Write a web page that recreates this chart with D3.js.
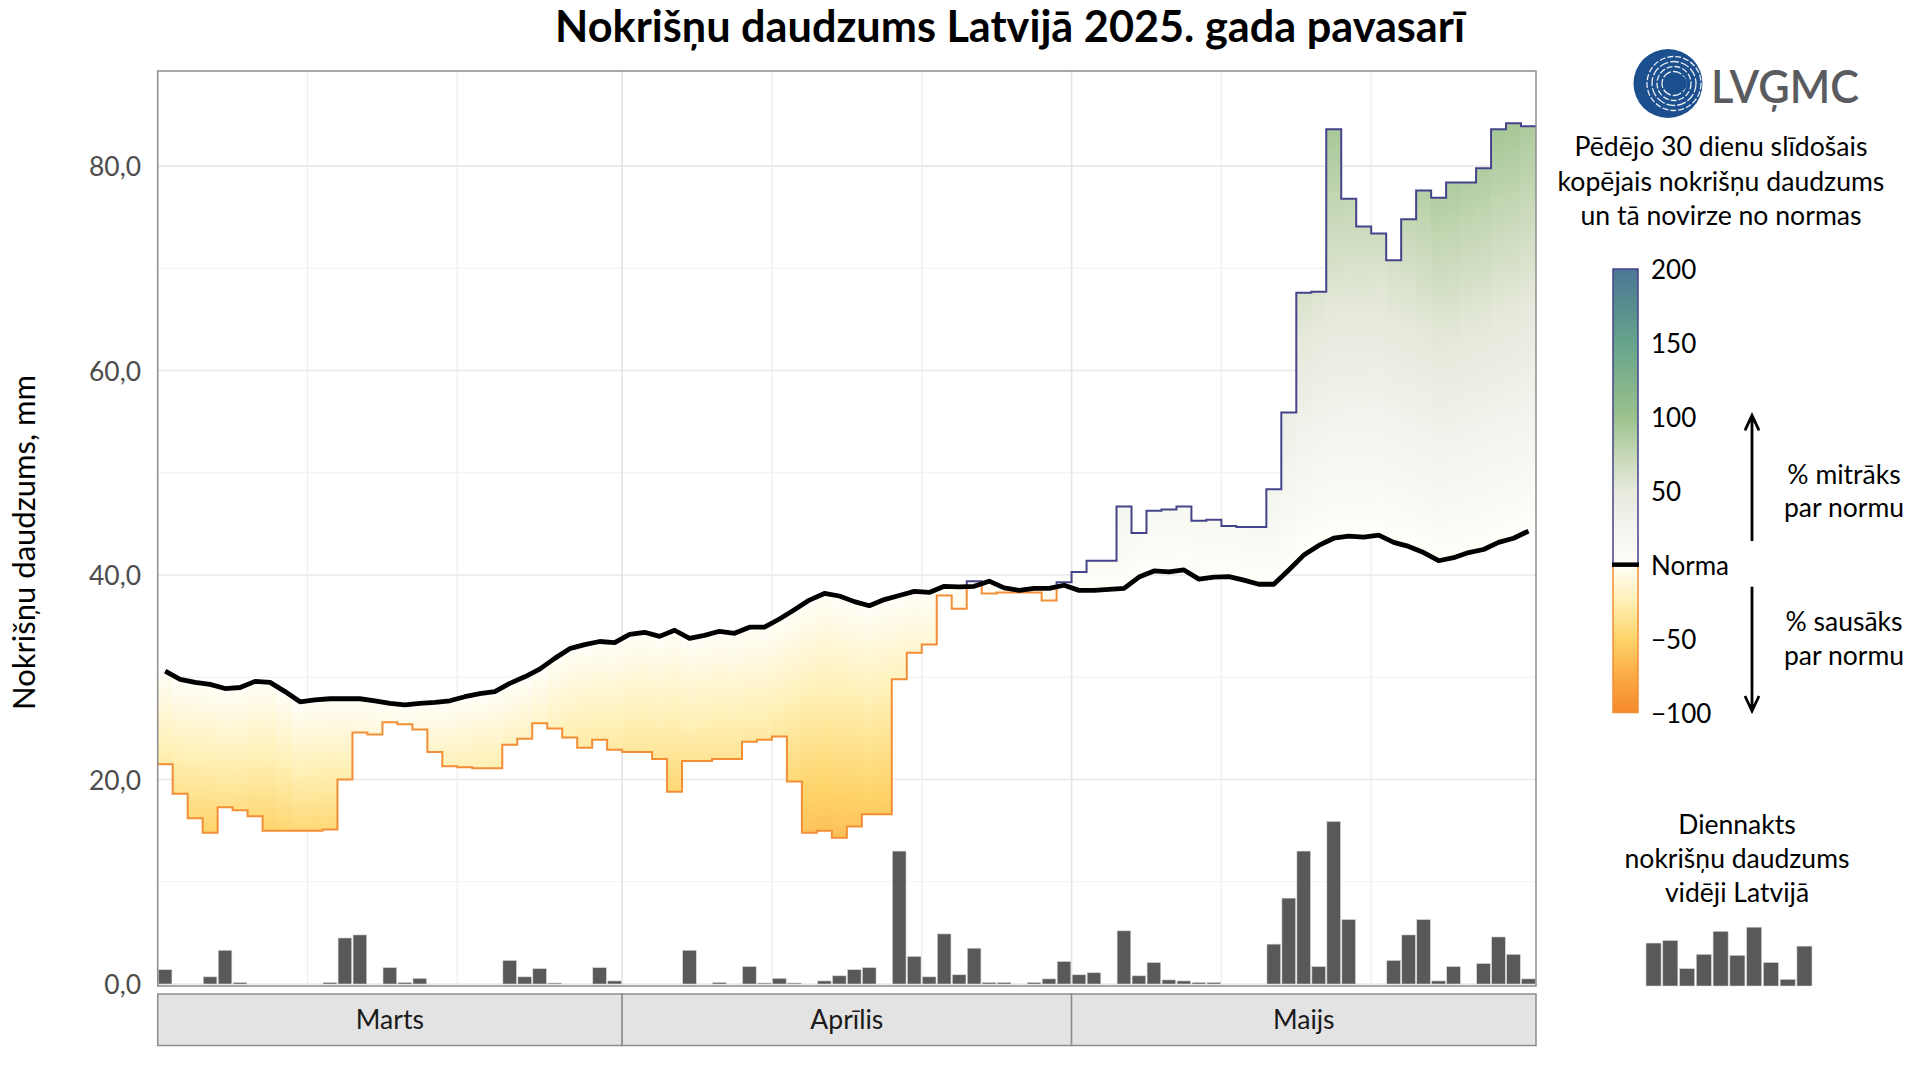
<!DOCTYPE html>
<html><head><meta charset="utf-8">
<script src="https://cdn.jsdelivr.net/npm/d3@7"></script>
<style>
body{margin:0;background:#fff}
svg{display:block}
text{font-family:Lato,"Open Sans","Noto Sans",sans-serif}
</style>
</head><body>
<svg id="chart" width="1920" height="1080"></svg>
<script>
// ---------------- DATA ----------------
const chartTitle = "Nokrišņu daudzums Latvijā 2025. gada pavasarī";
const yTitle = "Nokrišņu daudzums, mm";
const months = ["Marts", "Aprīlis", "Maijs"];
const periodStart = [2025, 2, 1];
const periodEnd = [2025, 5, 1];

// 30-day normal (mm), one value per day 1 Mar .. 31 May
const norm = [
 30.6,29.8,29.5,29.3,28.9,29.0,29.6,29.5,28.6,27.6,27.8,27.9,27.9,27.9,27.7,27.45,27.3,27.45,27.55,27.7,28.1,28.4,28.6,29.4,30.05,30.8,31.85,32.8,33.2,33.5,33.4,
 34.2,34.4,34.0,34.6,33.8,34.1,34.5,34.3,34.9,34.9,35.7,36.6,37.55,38.2,37.95,37.4,37.0,37.6,38.0,38.4,38.3,38.9,38.85,38.9,39.4,38.75,38.5,38.7,38.7,39.0,
 38.5,38.5,38.6,38.7,39.8,40.4,40.3,40.5,39.6,39.8,39.85,39.5,39.1,39.1,40.5,41.95,42.9,43.6,43.8,43.7,43.9,43.2,42.8,42.2,41.4,41.7,42.2,42.5,43.2,43.6,44.3
];
// last 30 days rolling precipitation sum (mm)
const rolling30 = [
 21.5,18.6,16.2,14.8,17.3,17.0,16.4,15.0,15.0,15.0,15.0,15.1,20.0,24.6,24.4,25.6,25.4,24.9,22.7,21.3,21.2,21.1,21.1,23.4,24.0,25.5,25.0,24.1,23.1,23.9,22.9,
 22.7,22.7,22.0,18.8,21.8,21.8,22.0,22.0,23.7,23.9,24.2,19.8,14.8,15.0,14.3,15.4,16.6,16.6,29.8,32.4,33.2,38.0,36.7,39.4,38.2,38.3,38.3,38.3,37.5,39.3,
 40.3,41.4,41.4,46.7,44.1,46.3,46.4,46.7,45.3,45.4,44.8,44.7,44.7,48.4,55.9,67.6,67.7,83.6,76.8,74.1,73.4,70.8,74.8,77.6,76.9,78.4,78.4,79.8,83.6,84.2,83.9
];
// daily precipitation, Latvia average (mm)
const daily = [
 1.4,0,0,0.7,3.3,0.15,0,0,0,0,0,0.15,4.5,4.8,0,1.6,0.15,0.55,0,0,0,0,0,2.3,0.7,1.5,0.1,0,0,1.6,0.3,
 0,0,0,0,3.3,0,0.15,0,1.7,0.1,0.55,0.1,0,0.3,0.8,1.4,1.6,0,13.0,2.7,0.7,4.9,0.9,3.5,0.15,0.15,0,0.15,0.5,2.2,
 0.9,1.1,0,5.2,0.8,2.1,0.4,0.3,0.15,0.15,0,0,0,3.9,8.4,13.0,1.7,15.9,6.3,0,0,2.3,4.8,6.3,0.3,1.7,0,2.0,4.6,2.9,0.5
];
const yTicks = [0, 20, 40, 60, 80];
const yMinorTicks = [10, 30, 50, 70];
const yTickLabels = ["0,0", "20,0", "40,0", "60,0", "80,0"];
const gridDaysOfMonth = [11, 21];

// deviation colour scale (% from normal)
const colorPct = [-100, -75, -50, -25, 0, 25, 50, 75, 100, 150, 200];
const colorHex = ["#f4892b","#fbab46","#fed46a","#fff0b5","#fffef9","#f3f4ee","#e7e9dc","#c4d7b4","#9bc18d","#66a48b","#4c7695"];
const legendPct = [200, 150, 100, 50, 0, -50, -100];
const legendPctLabels = ["200", "150", "100", "50", "Norma", "−50", "−100"];

const legendTitle = ["Pēdējo 30 dienu slīdošais", "kopējais nokrišņu daudzums", "un tā novirze no normas"];
const wetLabel = ["% mitrāks", "par normu"];
const dryLabel = ["% sausāks", "par normu"];
const barLegendTitle = ["Diennakts", "nokrišņu daudzums", "vidēji Latvijā"];
const legendBarValues = [4.2, 4.45, 1.7, 3.1, 5.35, 3.0, 5.75, 2.3, 0.65, 3.9];
const logoText = "LVĢMC";

// ---------------- DRAW ----------------
const svg = d3.select("#chart");
const defs = svg.append("defs");
const P = {left: 157.7, right: 1536, top: 71, bottom: 984};

const t0 = new Date(Date.UTC(...periodStart)), t1 = new Date(Date.UTC(...periodEnd));
const days = d3.utcDay.range(t0, t1);
const x = d3.scaleUtc().domain([t0, t1]).range([P.left, P.right]);
const y = d3.scaleLinear().domain([0, 89.3]).range([P.bottom, P.top]);

function fit(sel, w) {
  const n = sel.node(); const cur = n.getComputedTextLength();
  const fs = parseFloat(sel.attr("font-size"));
  if (cur > 0) sel.attr("font-size", (fs * w / cur).toFixed(2));
  return parseFloat(sel.attr("font-size"));
}
function fitGroup(sel, widest, w) {
  const probe = sel.filter((d, i) => i === widest);
  const fs = fit(probe, w);
  sel.attr("font-size", fs);
}

// background
svg.append("rect").attr("width", 1920).attr("height", 1080).attr("fill", "#fff");

// grid
const grid = svg.append("g");
grid.selectAll(".hmin").data(yMinorTicks).join("line")
  .attr("x1", P.left).attr("x2", P.right).attr("y1", d => y(d)).attr("y2", d => y(d))
  .attr("stroke", "#f2f2f2").attr("stroke-width", 1.2);
grid.selectAll(".hmaj").data(yTicks).join("line")
  .attr("x1", P.left).attr("x2", P.right).attr("y1", d => y(d)).attr("y2", d => y(d))
  .attr("stroke", "#e8e8e8").attr("stroke-width", 1.6);
const vGridDays = days.filter(d => gridDaysOfMonth.includes(d.getUTCDate()));
grid.selectAll(".vg").data(vGridDays).join("line")
  .attr("x1", d => x(d)).attr("x2", d => x(d)).attr("y1", P.top).attr("y2", P.bottom)
  .attr("stroke", "#efefef").attr("stroke-width", 1.4);
const monthStarts = d3.utcMonth.range(t0, t1);
grid.selectAll(".mb").data(monthStarts.slice(1)).join("line")
  .attr("x1", d => x(d)).attr("x2", d => x(d)).attr("y1", P.top).attr("y2", P.bottom)
  .attr("stroke", "#e6e6e6").attr("stroke-width", 1.8);

// daily bars
const dayW = d => x(d3.utcDay.offset(d, 1)) - x(d);
svg.append("g").selectAll("rect").data(days).join("rect")
  .attr("x", d => x(d) + dayW(d) * 0.04)
  .attr("width", d => dayW(d) * 0.91)
  .attr("y", (d, i) => y(daily[i]))
  .attr("height", (d, i) => y(0) - y(daily[i]))
  .attr("fill", "#595959").attr("stroke", "#d6d6d6").attr("stroke-width", 0.6)
  .attr("display", (d, i) => daily[i] > 0 ? null : "none");

// geometry for the rolling sum (step) and the norm line
const stepPts = [];
days.forEach((d, i) => {
  stepPts.push([x(d), y(rolling30[i])]);
  stepPts.push([x(d3.utcDay.offset(d, 1)), y(rolling30[i])]);
});
const mid = d => d3.utcHour.offset(d, 12);
const normPts = [[x(t0), y(norm[0])]].concat(days.map((d, i) => [x(mid(d)), y(norm[i])]), [[x(t1), y(norm[norm.length - 1])]]);
const lin = d3.line();

// per-day vertical gradients: colour = deviation % from that day's norm
days.forEach((d, i) => {
  const g = defs.append("linearGradient").attr("id", "gd" + i)
    .attr("gradientUnits", "userSpaceOnUse")
    .attr("x1", 0).attr("x2", 0).attr("y1", y(0)).attr("y2", y(norm[i] * 3));
  colorPct.forEach((p, k) => g.append("stop").attr("offset", (p + 100) / 300).attr("stop-color", colorHex[k]));
});
defs.append("clipPath").attr("id", "betweenClip").append("path")
  .attr("d", lin(stepPts.concat(normPts.slice().reverse())) + "Z");
defs.append("clipPath").attr("id", "aboveClip").append("path")
  .attr("d", lin(normPts.concat([[x(t1) + 5, P.top - 20], [x(t0) - 5, P.top - 20]])) + "Z");
defs.append("clipPath").attr("id", "belowClip").append("path")
  .attr("d", lin(normPts.concat([[x(t1) + 5, P.bottom + 20], [x(t0) - 5, P.bottom + 20]])) + "Z");

svg.append("g").attr("clip-path", "url(#betweenClip)")
  .selectAll("rect").data(days).join("rect")
  .attr("x", d => x(d) - 0.3).attr("width", d => dayW(d) + 0.6)
  .attr("y", P.top).attr("height", P.bottom - P.top)
  .attr("fill", (d, i) => `url(#gd${i})`);

const stepLine = d3.line().curve(d3.curveStepAfter);
const stepD = stepLine(days.map((d, i) => [x(d), y(rolling30[i])]).concat([[x(t1), y(rolling30[rolling30.length - 1])]]));
svg.append("path").attr("d", stepD).attr("clip-path", "url(#belowClip)")
  .attr("fill", "none").attr("stroke", "#f28f36").attr("stroke-width", 2);
svg.append("path").attr("d", stepD).attr("clip-path", "url(#aboveClip)")
  .attr("fill", "none").attr("stroke", "#45448a").attr("stroke-width", 2);

// norm line
svg.append("path").attr("d", d3.line()(days.map((d, i) => [x(mid(d)), y(norm[i])])))
  .attr("fill", "none").attr("stroke", "#000").attr("stroke-width", 4.8)
  .attr("stroke-linejoin", "round").attr("stroke-linecap", "butt");

// panel border
svg.append("rect").attr("x", P.left).attr("y", P.top).attr("width", P.right - P.left).attr("height", P.bottom + 2 - P.top)
  .attr("fill", "none").attr("stroke", "#8c8c8c").attr("stroke-width", 1.5);

// y tick labels
const tl = svg.append("g").selectAll("text").data(yTicks).join("text")
  .attr("x", 141).attr("y", d => y(d)).attr("text-anchor", "end").attr("dominant-baseline", "central")
  .attr("fill", "#4d4d4d").attr("font-size", 26).text((d, i) => yTickLabels[i]);
fitGroup(tl, 4, 52);

// y title
const yt = svg.append("text").attr("transform", `translate(23,${(P.top + P.bottom) / 2 + 15}) rotate(-90)`)
  .attr("text-anchor", "middle").attr("dominant-baseline", "central").attr("fill", "#000")
  .attr("font-size", 30).text(yTitle);
fit(yt, 335);

// month strips
const strip = svg.append("g");
monthStarts.forEach((m, i) => {
  const m1 = d3.utcMonth.offset(m, 1);
  strip.append("rect").attr("x", x(m)).attr("y", 994).attr("width", x(m1) - x(m)).attr("height", 51.5)
    .attr("fill", "#e3e3e3").attr("stroke", "#8c8c8c").attr("stroke-width", 1.5);
});
const st = strip.selectAll("text").data(monthStarts).join("text")
  .attr("x", d => (x(d) + x(d3.utcMonth.offset(d, 1))) / 2).attr("y", 1019)
  .attr("text-anchor", "middle").attr("dominant-baseline", "central").attr("fill", "#1a1a1a")
  .attr("font-size", 26).text((d, i) => months[i]);
fitGroup(st, 1, 73);

// title
const tt = svg.append("text").attr("x", 1010).attr("y", 42).attr("text-anchor", "middle")
  .attr("font-weight", 700).attr("font-size", 40).attr("fill", "#000").text(chartTitle);
fit(tt, 910);

// ---------------- LEGEND ----------------
const L = svg.append("g");
// logo
const lc = {x: 1668, y: 83.5, r: 34.5};
defs.append("clipPath").attr("id", "logoClip").append("circle").attr("cx", lc.x).attr("cy", lc.y).attr("r", lc.r);
L.append("circle").attr("cx", lc.x).attr("cy", lc.y).attr("r", lc.r).attr("fill", "#1c4f8e");
const rings = L.append("g").attr("clip-path", "url(#logoClip)");
[12, 17, 22, 27].forEach((r, k) => {
  rings.append("circle").attr("cx", lc.x + 6).attr("cy", lc.y).attr("r", r)
    .attr("fill", "none").attr("stroke", "#ffffff").attr("stroke-width", 1.3)
    .attr("stroke-dasharray", k % 2 ? "6 2" : "9 2").attr("opacity", 0.9);
});
rings.append("circle").attr("cx", lc.x + 10).attr("cy", lc.y).attr("r", 9).attr("fill", "#1c4f8e");
L.append("text").attr("x", 1711).attr("y", lc.y + 1).attr("dominant-baseline", "central")
  .attr("font-size", 47).attr("font-weight", 600).attr("fill", "#5a5b5e")
  .attr("textLength", 148).attr("lengthAdjust", "spacingAndGlyphs").text(logoText);

// legend title
const ltl = L.selectAll(".lt").data(legendTitle).join("text")
  .attr("x", 1721).attr("y", (d, i) => 146 + i * 34.5).attr("text-anchor", "middle")
  .attr("dominant-baseline", "central").attr("font-size", 25).attr("fill", "#000").text(d => d);
fitGroup(ltl, 1, 327);

// colour bar
const ly = d3.scaleLinear().domain([-100, 200]).range([712.5, 269]);
const cbx = 1613, cbw = 25;
const cg = defs.append("linearGradient").attr("id", "cbar").attr("gradientUnits", "userSpaceOnUse")
  .attr("x1", 0).attr("x2", 0).attr("y1", ly(-100)).attr("y2", ly(200));
colorPct.forEach((p, k) => cg.append("stop").attr("offset", (p + 100) / 300).attr("stop-color", colorHex[k]));
L.append("rect").attr("x", cbx).attr("y", ly(200)).attr("width", cbw).attr("height", ly(-100) - ly(200)).attr("fill", "url(#cbar)");
L.append("rect").attr("x", cbx).attr("y", ly(200)).attr("width", cbw).attr("height", ly(0) - ly(200))
  .attr("fill", "none").attr("stroke", "#45448a").attr("stroke-width", 1.5);
L.append("rect").attr("x", cbx).attr("y", ly(0)).attr("width", cbw).attr("height", ly(-100) - ly(0))
  .attr("fill", "none").attr("stroke", "#f28f36").attr("stroke-width", 1.5);
L.append("line").attr("x1", cbx - 1).attr("x2", cbx + cbw + 1).attr("y1", ly(0)).attr("y2", ly(0))
  .attr("stroke", "#000").attr("stroke-width", 4.5);
const cbl = L.selectAll(".cbl").data(legendPct).join("text")
  .attr("x", 1651).attr("y", d => ly(d)).attr("dominant-baseline", "central")
  .attr("font-size", 25).attr("fill", "#000").text((d, i) => legendPctLabels[i]);
fitGroup(cbl, 4, 78);

// arrows
function arrow(from, to) {
  const ax = 1752, y0 = ly(from), y1 = ly(to), s = y1 < y0 ? 1 : -1;
  L.append("path").attr("d", `M${ax},${y0}L${ax},${y1}M${ax - 7},${y1 + s * 15}L${ax},${y1}L${ax + 7},${y1 + s * 15}`)
    .attr("fill", "none").attr("stroke", "#000").attr("stroke-width", 2.8).attr("stroke-linejoin", "miter");
}
arrow(16, 101);
arrow(-15, -99);
const wl = L.selectAll(".wl").data(wetLabel).join("text")
  .attr("x", 1844).attr("y", (d, i) => 474 + i * 33).attr("text-anchor", "middle").attr("dominant-baseline", "central")
  .attr("font-size", 25).attr("fill", "#000").text(d => d);
fitGroup(wl, 1, 120);
const dl = L.selectAll(".dl").data(dryLabel).join("text")
  .attr("x", 1844).attr("y", (d, i) => 621 + i * 34).attr("text-anchor", "middle").attr("dominant-baseline", "central")
  .attr("font-size", 25).attr("fill", "#000").text(d => d);
dl.attr("font-size", wl.attr("font-size"));

// daily bar legend
const bl = L.selectAll(".bl").data(barLegendTitle).join("text")
  .attr("x", 1737).attr("y", (d, i) => 824 + i * 34).attr("text-anchor", "middle").attr("dominant-baseline", "central")
  .attr("font-size", 25).attr("fill", "#000").text(d => d);
fitGroup(bl, 1, 225);
const lbx = d3.scaleBand().domain(d3.range(legendBarValues.length)).range([1646, 1812]).paddingInner(0.1);
const lby = d3.scaleLinear().domain([0, 10]).range([986, 986 - 102.25]);
L.append("g").selectAll("rect").data(legendBarValues).join("rect")
  .attr("x", (d, i) => lbx(i)).attr("width", lbx.bandwidth())
  .attr("y", d => lby(d)).attr("height", d => lby(0) - lby(d))
  .attr("fill", "#595959").attr("stroke", "#d6d6d6").attr("stroke-width", 0.6);
</script>
</body></html>
